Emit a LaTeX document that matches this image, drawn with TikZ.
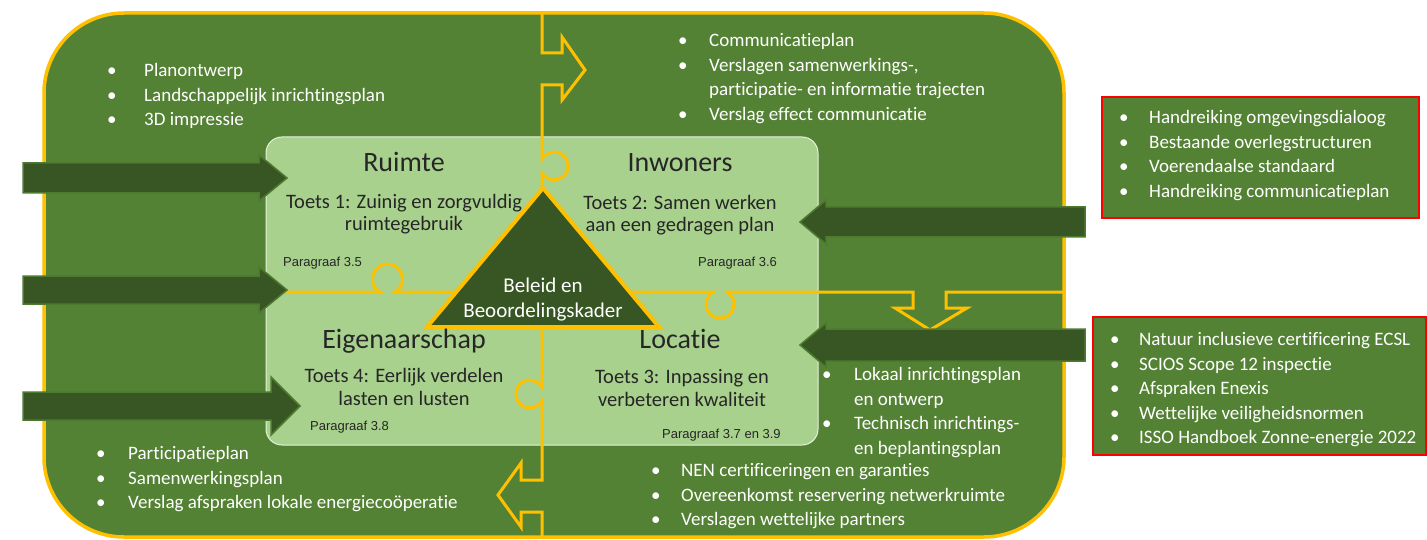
\documentclass[tikz,border=0pt]{standalone}
\usepackage{fontspec}
\setmainfont{Carlito}[Ligatures=NoCommon]
\newfontfamily\parfont{Liberation Sans}
\usetikzlibrary{positioning}
\definecolor{grasgroen}{HTML}{548235}
\definecolor{donkergroen}{HTML}{375623}
\definecolor{lichtgroen}{HTML}{A9D18E}
\definecolor{goud}{HTML}{FFC000}
\definecolor{pijlrand}{HTML}{4E7A2F}
\newcommand{\itm}[1][30pt]{\strut\makebox[#1][l]{\textbullet}}
\newcommand{\cnt}[1][30pt]{\strut\hspace*{#1}}
\tikzset{
  lijst/.style={anchor=north west, inner sep=0pt, align=left, text=white,
    font=\fontsize{19}{24.6}\selectfont},
  titel/.style={anchor=base, inner sep=0pt, text=black!85, font=\fontsize{28}{30}\selectfont},
  toets/.style={inner sep=0pt, align=center, text=black!85, font=\fontsize{20.5}{22.5}\selectfont},
  paragraaf/.style={anchor=west, inner sep=0pt, text=black!85, font=\parfont\fontsize{13}{14}\selectfont},
  puzzel/.style={draw=goud, line width=3pt, line join=miter},
  blokpijl/.style={fill=donkergroen, draw=pijlrand, line width=1.5pt},
  rodebox/.style={fill=grasgroen, draw=red, line width=2.5pt}
}

\begin{document}
\begin{tikzpicture}[x=1pt,y=-1pt]
\useasboundingbox (0,0) rectangle (1427,540);
% frame and centre panel
\draw[fill=grasgroen, draw=goud, line width=3.5pt, rounded corners=80pt] (44,13) rectangle (1064,537);
\draw[fill=lichtgroen, draw=white!70!lichtgroen, line width=1pt, rounded corners=16pt] (266,137) rectangle (818,445);

% puzzle seams
\draw[puzzel] (542,13) -- (542,53) -- (562,53) -- (562,37) -- (585,70) -- (562,100) -- (562,85) -- (542,85)
  -- (542,159) arc[start angle=-150, end angle=150, radius=14] -- (542,200);
\draw[puzzel] (266,292) -- (380,292) arc[start angle=120, end angle=420, radius=15] -- (543,292);
\draw[puzzel] (543,292) -- (713,292) arc[start angle=240, end angle=-60, radius=14] -- (913,292) -- (913,308)
  -- (895,308) -- (930,330) -- (967,308) -- (946,308) -- (946,292) -- (1064,292);
\draw[puzzel] (542,300) -- (542,387) arc[start angle=-30, end angle=-330, radius=14] -- (542,480) -- (521,480)
  -- (521,463) -- (498,495) -- (521,527) -- (521,512) -- (542,512) -- (542,537);

% triangle
\draw[fill=donkergroen, draw=goud, line width=4pt, line join=miter] (543,188) -- (659,327) -- (427,327) -- cycle;
\node[text=white, align=center, font=\fontsize{21}{25}\selectfont] (kader) at (543,300) {Beleid en\\Beoordelingskader};

% block arrows
\foreach \y/\hb/\tip/\hh/\sh in {178/259/287/23/15, 290/259/287/23/14, 406/271/300/29/14}
  \draw[blokpijl] (23,\y-\sh) -- (\hb,\y-\sh) -- (\hb,\y-\hh) -- (\tip,\y) -- (\hb,\y+\hh) -- (\hb,\y+\sh) -- (23,\y+\sh) -- cycle;
\foreach \y/\hh/\sh in {222/22/15, 345/22/16}
  \draw[blokpijl] (1085,\y-\sh) -- (826,\y-\sh) -- (826,\y-\hh) -- (800,\y) -- (826,\y+\hh) -- (826,\y+\sh) -- (1085,\y+\sh) -- cycle;

% quadrants
\node[titel] (ruimte) at (404,172) {Ruimte};
\node[titel] (inwoners) at (680,172) {Inwoners};
\node[titel] (eigenaarschap) at (404,348) {Eigenaarschap};
\node[titel] (locatie) at (680,348) {Locatie};
\node[toets] (toets1) at (404,214) {Toets 1: Zuinig en zorgvuldig\\ruimtegebruik};
\node[toets] (toets2) at (680,215) {Toets 2: Samen werken\\aan een gedragen plan};
\node[toets] (toets4) at (404,387) {Toets 4: Eerlijk verdelen\\lasten en lusten};
\node[toets] (toets3) at (682,388) {Toets 3: Inpassing en\\verbeteren kwaliteit};
\node[paragraaf] (par35) at (283,263) {Paragraaf 3.5};
\node[paragraaf] (par36) at (698,263) {Paragraaf 3.6};
\node[paragraaf] (par38) at (310,427) {Paragraaf 3.8};
\node[paragraaf] (par379) at (662,435) {Paragraaf 3.7 en 3.9};

% lists
\node[lijst] (lijstruimte) at (107,59) {\itm[37pt]Planontwerp\\\itm[37pt]Landschappelijk inrichtingsplan\\\itm[37pt]3D impressie};
\node[lijst] (lijstinwoners) at (678,29) {\itm[31pt]Communicatieplan\\\itm[31pt]Verslagen samenwerkings-,\\
  \cnt[31pt]participatie- en informatie trajecten\\\itm[31pt]Verslag effect communicatie};
\node[lijst] (lijsteigen) at (96,442) {\itm[32pt]Participatieplan\\\itm[32pt]Samenwerkingsplan\\
  \itm[32pt]Verslag afspraken lokale energiecoöperatie};
\node[lijst] (lijstnen) at (651,459) {\itm[30pt]NEN certificeringen en garanties\\
  \itm[30pt]Overeenkomst reservering netwerkruimte\\\itm[30pt]Verslagen wettelijke partners};
\node[lijst] (lijstlocatie) at (822,363) {\itm[32pt]Lokaal inrichtingsplan\\\cnt[32pt]en ontwerp\\
  \itm[32pt]Technisch inrichtings-\\\cnt[32pt]en beplantingsplan};

% sources
\draw[rodebox] (1102,97) rectangle (1419,218);
\node[lijst] (bronnen1) at (1119,106) {\itm[30pt]Handreiking omgevingsdialoog\\\itm[30pt]Bestaande overlegstructuren\\
  \itm[30pt]Voerendaalse standaard\\\itm[30pt]Handreiking communicatieplan};
\draw[rodebox] (1093,317) rectangle (1426,455);
\node[lijst] (bronnen2) at (1110,328) {\itm[29pt]Natuur inclusieve certificering ECSL\\\itm[29pt]SCIOS Scope 12 inspectie\\
  \itm[29pt]Afspraken Enexis\\\itm[29pt]Wettelijke veiligheidsnormen\\\itm[29pt]ISSO Handboek Zonne-energie 2022};
\end{tikzpicture}
\end{document}
